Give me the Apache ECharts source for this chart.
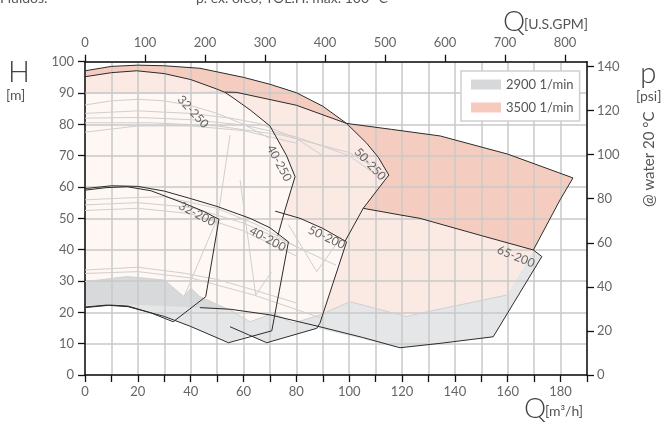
<!DOCTYPE html>
<html>
<head>
<meta charset="utf-8">
<script src="https://cdn.jsdelivr.net/npm/echarts@6/dist/echarts.min.js"></script>
<style>
  html, body { margin: 0; padding: 0; background: #fff; }
  #chart { width: 662px; height: 427px; }
</style>
</head>
<body>
<div id="chart"></div>
<script>
// ---- Pump range data: flow Q [m3/h], head H [m] ----
const top50_250 = [[0,97.1],[10,98.5],[20,98.9],[30,98.7],[43.5,97.9],[60,95],[70,92.8],[80,90.1],[90,85.8],[99,80.3],[106.6,74],[111,69.5],[115,63.8]];
const edge50_250 = [[115,63.8],[113.5,62.2],[105.3,53.2],[98.5,42.8]];
const top40_250 = [[0,95.2],[10,96.5],[19.6,97.1],[30,96.2],[40,94.3],[49.8,91.3],[53,90.2],[56,88.5],[62.5,84.6],[70,79.5],[76.3,70],[79.5,63.3]];
const edge40_250 = [[79.5,63.3],[75.7,52.7],[73,44.5]];
const top65_250 = [[0,90],[25,90],[53,90.3],[57.4,90.2],[80,86.1],[99,80.3],[116,78.4],[134.4,76.3],[160,70.5],[184.7,62.9]];
const edge65_250 = [[184.7,62.9],[179.8,55.9],[169.7,39.9]];
const top65_200 = [[105.3,53.2],[119.2,51.1],[126.8,50],[150,44.5],[169.7,39.9]];
const edge65_200 = [[169.7,39.9],[172.9,37.8],[154.5,12.2],[134.4,10.1],[119.2,8.7]];
const low65_200 = [[119.2,8.7],[105,12],[88.9,15.4],[70,19.2],[54.9,21],[43.5,21.5]];
const top50_200 = [[72,52.3],[81.4,50],[90,46.8],[99,42.5]];
const edge50_200 = [[99,42.5],[88.9,16.5],[87.7,14.9],[68.8,10.3],[62,12.8],[54.9,15.4]];
const top40_200 = [[0,59.5],[10,60.4],[20,60.2],[30,58.7],[40,56.3],[50,53.8],[62.5,50],[70,47],[77,42.5]];
const edge40_200 = [[77,42.5],[70.7,14.1],[54.3,10.3]];
const low40_200 = [[54.3,10.3],[40,15.5],[30,18.7],[16.3,21.8],[8,22.3],[0,21.7]];
const top32_200 = [[0,59],[8,59.8],[16,60.1],[25,58.8],[37.5,54.8],[45,52.2],[50.7,49.7]];
const edge32_200 = [[50.7,49.7],[45.7,25],[33.4,17]];
const low32_200 = [[33.4,17],[25,19.8],[16.3,22],[9.7,22.3],[0,21.5]];
const edge32_250 = [[54.9,76.6],[50.3,50.4],[37.5,25]];
// lower limit of the 3500 1/min field (edge of the 2900 1/min field)
const limit3500 = [[0,29.8],[16,31.4],[30,30.3],[37.5,25],[40,27.7],[43.5,25],[54.9,20.7],[62.5,17],[71.3,19.7],[78.8,16.5],[89,19.2],[100.3,23.4],[121.8,18.6],[126.8,19.7],[159.6,25.5]];
const lowerGrey = [[172.9,37.8],[154.5,12.2],[134.4,10.1],[119.2,8.7],[87.7,14.9],[68.8,10.3],[62,12.6],[54.3,10.3],[40,15.5],[30,18.7],[16.3,21.8],[8,22.3],[0,21.7]];
// intermediate impeller curves and inner field edges
const impellerCurves = [
  [[0,86.2],[10,87.5],[20,88],[30,87.5],[40,86],[50,83.5],[60,80],[70,75.5]],
  [[0,83.5],[20,84.3],[40,83.5],[55,82],[66,80.3],[80,75.5],[90,70]],
  [[0,82],[20,82.2],[40,81.5],[60,79.8],[80,76],[100,70],[110,64]],
  [[0,80.5],[25,80.5],[50,79.5],[75,76.5],[100,71],[110,66]],
  [[0,77.5],[20,79.5],[40,79.5],[60,78],[80,74]],
  [[0,55.9],[15,56.5],[30,56.9],[50,53.2],[65,48],[80,41]],
  [[0,54.3],[20,55],[40,53.5],[60,48.5],[80,41],[95,35]],
  [[0,52.5],[20,53.2],[40,51.5],[60,46],[80,38]],
  [[0,33.5],[20,34.4],[37.5,32.5],[50,30.5],[64,27.1],[80,23]],
  [[0,32.4],[20,33],[40,31],[64,25.5],[90,18]],
  [[58.7,62.2],[64.6,25.5],[70.7,33]],
  [[77,48],[87.7,33],[97,44]]
];
const modelLabels = [
  ['32-250', 40.9, 84.0, -47],
  ['40-250', 73.5, 67.6, -62],
  ['50-250', 107.9, 67.3, -47],
  ['32-200', 42.4, 51.4, -28],
  ['40-200', 69.1, 43.4, -28],
  ['50-200', 91.5, 43.9, -25],
  ['65-200', 163.1, 37.8, -22]
];
const qTicks = [0,10,20,30,40,50,60,70,80,90,100,110,120,130,140,150,160,170,180,190];
const qLabels = [0,20,40,60,80,100,120,140,160,180];
const gpmTicks = [0,100,200,300,400,500,600,700,800];
const psiTicks = [0,20,40,60,80,100,120,140];
const hTicks = [0,10,20,30,40,50,60,70,80,90,100];

// unit conversions for the secondary axes
const M3H_TO_GPM = 4.40287;
const M_TO_PSI = 1.42197;
const Q_MAX = 190, H_MAX = 100;

// ---- polygon assembly ----
const upTo = (arr, q) => arr.filter(p => p[0] <= q);
const from = (arr, q) => arr.filter(p => p[0] > q);
const rev = a => a.slice().reverse();

const env3500 = [].concat(upTo(top50_250, 99), from(top65_250, 99), edge65_250.slice(1), rev(limit3500));
const bandMid = [].concat(upTo(top50_250, 99), rev(top65_250.filter(p => p[0] >= 53 && p[0] < 99)), rev(top40_250.filter(p => p[0] < 53)));
const rightMid = [].concat([[99,80.3]], from(top65_250, 99), edge65_250.slice(1), rev(top65_200).slice(1), [[113.5,62.2],[115,63.8]], rev(top50_250.filter(p => p[0] > 99 && p[0] < 115)));
const innerLight = [].concat(upTo(top65_250, 53), top40_250.filter(p => p[0] >= 56), edge40_250.slice(1,2), [[75.3,51.5]], top50_200.slice(1), [[90,19.2]], rev(upTo(limit3500, 89)));
const grey2900 = [].concat(limit3500, [[169.7,39.9]], lowerGrey);
const greyDark = [].concat(upTo(limit3500, 54.9), rev(low65_200.filter(p => p[0] <= 55)), [[30,22],[16,22.5],[0,22.3]]);

const C = {
  grey: '#e5e6e7', greyDark: '#d8d9da', sal: '#fbe9e3', salMid: '#f5cdc0', salLight: '#fef7f4',
  dark: '#2b2b2b', faint: '#cfcfcf'
};
const FONT = 'Lato, "Liberation Sans", sans-serif';

function area(pts, fill, z, name) {
  return {
    type: 'custom', name: name, coordinateSystem: 'cartesian2d', silent: true, z: z,
    data: [[0, 0]], animation: false,
    renderItem: (params, api) => ({
      type: 'polygon',
      shape: { points: pts.map(p => api.coord(p)) },
      style: { fill: fill, stroke: null }
    })
  };
}
function stroke(lines, color, width, z) {
  return {
    type: 'custom', coordinateSystem: 'cartesian2d', silent: true, z: z,
    data: [[0, 0]], animation: false,
    renderItem: (params, api) => ({
      type: 'group',
      children: lines.map(l => ({
        type: 'polyline',
        shape: { points: l.map(p => api.coord(p)) },
        style: { stroke: color, lineWidth: width, fill: null, lineJoin: 'round' }
      }))
    })
  };
}
const labelSeries = {
  type: 'custom', coordinateSystem: 'cartesian2d', silent: true, z: 30,
  data: [[0, 0]], animation: false,
  renderItem: (params, api) => ({
    type: 'group',
    children: modelLabels.map(m => {
      const c = api.coord([m[1], m[2]]);
      return {
        type: 'text', x: c[0], y: c[1], rotation: m[3] * Math.PI / 180,
        style: { text: m[0], fill: '#666', font: '12px ' + FONT, align: 'center', verticalAlign: 'middle' }
      };
    })
  })
};

const labelFont = { color: '#666', fontSize: 13, fontFamily: FONT };
const axisBlack = { onZero: false, lineStyle: { color: '#111', width: 1.5 } };
const tickStyle = { color: '#111', width: 1.3 };

const option = {
  animation: false,
  grid: { left: 85, right: 75, top: 61.7, bottom: 52, containLabel: false },
  legend: {
    orient: 'vertical', left: 461, top: 71, z: 40,
    itemWidth: 30, itemHeight: 10, itemGap: 10,
    padding: [7, 6, 7, 10],
    backgroundColor: '#fff', borderColor: '#cfcfcf', borderWidth: 1.5,
    textStyle: { color: '#555', fontSize: 13, fontFamily: FONT },
    data: [
      { name: '2900 1/min', icon: 'rect', itemStyle: { color: '#d6d8d9' } },
      { name: '3500 1/min', icon: 'rect', itemStyle: { color: '#f6cbbd' } }
    ],
    selectedMode: false
  },
  xAxis: [
    {
      type: 'value', position: 'bottom', min: 0, max: Q_MAX, interval: 10, z: 10,
      axisLine: axisBlack,
      axisTick: { inside: false, length: 7, customValues: qTicks, lineStyle: tickStyle },
      axisLabel: Object.assign({ margin: 10, customValues: qLabels }, labelFont),
      splitLine: { show: true, lineStyle: { color: '#c9c9c9', width: 1.5 } }
    },
    {
      type: 'value', position: 'top', min: 0, max: Q_MAX * M3H_TO_GPM, z: 10,
      axisLine: axisBlack,
      axisTick: { inside: false, length: 7, customValues: gpmTicks, lineStyle: tickStyle },
      axisLabel: Object.assign({ margin: 12, customValues: gpmTicks }, labelFont),
      splitLine: { show: false }
    }
  ],
  yAxis: [
    {
      type: 'value', position: 'left', min: 0, max: H_MAX, interval: 10, z: 10,
      axisLine: axisBlack,
      axisTick: { inside: false, length: 7, customValues: hTicks, lineStyle: tickStyle },
      axisLabel: Object.assign({ margin: 11, customValues: hTicks }, labelFont),
      splitLine: { show: true, lineStyle: { color: '#c9c9c9', width: 1.5 } }
    },
    {
      type: 'value', position: 'right', min: 0, max: H_MAX * M_TO_PSI, z: 10,
      axisLine: axisBlack,
      axisTick: { inside: false, length: 7, customValues: psiTicks, lineStyle: tickStyle },
      axisLabel: Object.assign({ margin: 10, customValues: psiTicks }, labelFont),
      splitLine: { show: false }
    }
  ],
  graphic: [
    { type: 'text', x: 0, y: -9, style: { text: 'Fluidos:', fill: '#555', font: '14px ' + FONT } },
    { type: 'text', x: 196, y: -9, style: { text: 'p. ex. óleo, TOL.H. máx. 100 °C', fill: '#555', font: '14px ' + FONT } },
    { type: 'text', x: 8, y: 58, style: { text: 'H', fill: '#444', font: '300 29px ' + FONT } },
    { type: 'text', x: 6, y: 88, style: { text: '[m]', fill: '#555', font: '14px ' + FONT } },
    { type: 'text', x: 503, y: 8, style: { text: 'Q', fill: '#444', font: '300 28px ' + FONT } },
    { type: 'text', x: 524, y: 17, style: { text: '[U.S.GPM]', fill: '#555', font: '14px ' + FONT } },
    { type: 'text', x: 640, y: 58, style: { text: 'p', fill: '#444', font: '300 30px ' + FONT } },
    { type: 'text', x: 636, y: 89, style: { text: '[psi]', fill: '#555', font: '14px ' + FONT } },
    { type: 'text', x: 642, y: 207, rotation: Math.PI / 2, style: { text: '@ water 20 °C', fill: '#555', font: '15px ' + FONT } },
    { type: 'text', x: 524, y: 395, style: { text: 'Q', fill: '#444', font: '300 28px ' + FONT } },
    { type: 'text', x: 545, y: 404, style: { text: '[m³/h]', fill: '#555', font: '14px ' + FONT } }
  ],
  series: [
    area(grey2900, C.grey, 1, '2900 1/min'),
    area(greyDark, C.greyDark, 1),
    area(env3500, C.sal, 2, '3500 1/min'),
    area(bandMid, C.salMid, 3),
    area(rightMid, C.salMid, 3),
    area(innerLight, C.salLight, 3),
    stroke(impellerCurves.concat([edge32_250, upTo(top65_250, 57.4), limit3500]), C.faint, 1, 12),
    stroke([
      top50_250, edge50_250, top40_250, edge40_250, top65_250.filter(p => p[0] >= 53), edge65_250,
      top65_200, edge65_200, low65_200, top50_200, edge50_200, top40_200, edge40_200, low40_200,
      top32_200, edge32_200, low32_200
    ], C.dark, 1, 13),
    labelSeries
  ]
};

const chart = echarts.init(document.getElementById('chart'), null, { renderer: 'canvas' });
chart.setOption(option);
</script>
</body>
</html>
